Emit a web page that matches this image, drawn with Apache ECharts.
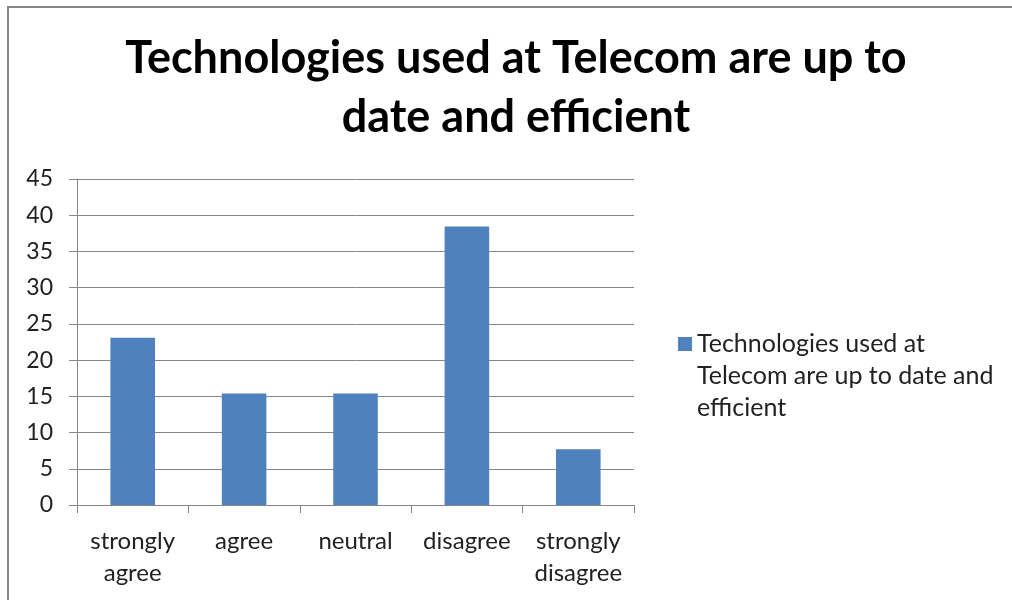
<!DOCTYPE html>
<html>
<head>
<meta charset="utf-8">
<script src="https://cdn.jsdelivr.net/npm/echarts@6/dist/echarts.min.js"></script>
<style>
  html, body { margin: 0; padding: 0; background: #fff; overflow: hidden; }
  #chart { width: 1012px; height: 600px; }
</style>
</head>
<body>
<div id="chart"></div>
<script>
// Survey responses (% of respondents)
const titleText = 'Technologies used at Telecom are up to\ndate and efficient';
const seriesName = 'Technologies used at Telecom are up to date and efficient';
const legendLines = ['Technologies used at', 'Telecom are up to date and', 'efficient'];
const categories = ['strongly\nagree', 'agree', 'neutral', 'disagree', 'strongly\ndisagree'];
const values = [23.08, 15.38, 15.38, 38.46, 7.69];
const yTicks = { min: 0, max: 45, interval: 5 };

const FONT = 'Lato, "Open Sans", sans-serif';
const chart = echarts.init(document.getElementById('chart'), null, { renderer: 'canvas' });

// Legend marker: a square sitting beside the first text line; the trailing
// move-to stretches the symbol box to the full height of the three lines.
const LEGEND_LINE_H = 32;
const legendIcon = 'path://M0,0M0,9h14v14h-14zM14,' + (LEGEND_LINE_H * 3);

chart.setOption({
  backgroundColor: '#fff',
  animation: false,
  textStyle: { fontFamily: FONT },
  title: {
    text: titleText,
    left: 516,
    textAlign: 'center',
    top: 24,
    padding: [5, 0, 5, 0],
    textStyle: { fontFamily: FONT, fontSize: 45, fontWeight: 'bold', color: '#000', lineHeight: 59 }
  },
  // chart-area frame: left and top edges
  graphic: [
    {
      type: 'line',
      shape: { x1: 8, y1: 7, x2: 8, y2: 620 },
      style: { stroke: '#868686', lineWidth: 2 },
      silent: true,
      z: 100
    },
    {
      type: 'line',
      shape: { x1: 7, y1: 7, x2: 1030, y2: 7 },
      style: { stroke: '#868686', lineWidth: 2 },
      silent: true,
      z: 100
    }
  ],
  grid: { left: 77, right: 378, top: 179, bottom: 95 },
  legend: {
    data: [seriesName],
    left: 678,
    top: 328,
    padding: 0,
    orient: 'vertical',
    icon: legendIcon,
    itemWidth: 14,
    itemHeight: LEGEND_LINE_H * 3,
    itemGap: 0,
    formatter: () => legendLines.join('\n'),
    textStyle: { fontFamily: FONT, fontSize: 25, color: '#222', lineHeight: LEGEND_LINE_H }
  },
  xAxis: {
    type: 'category',
    data: categories,
    axisLine: { lineStyle: { color: '#868686', width: 1 } },
    axisTick: { show: true, length: 8, lineStyle: { color: '#868686' } },
    axisLabel: { fontFamily: FONT, fontSize: 24, color: '#222', lineHeight: 32, margin: 20, interval: 0 }
  },
  yAxis: {
    type: 'value',
    min: yTicks.min,
    max: yTicks.max,
    interval: yTicks.interval,
    axisLine: { show: true, lineStyle: { color: '#868686', width: 1 } },
    axisTick: { show: true, length: 8, lineStyle: { color: '#868686' } },
    splitLine: { lineStyle: { color: '#868686', width: 1 } },
    axisLabel: { fontFamily: FONT, fontSize: 23, color: '#222', margin: 24 }
  },
  series: [{
    name: seriesName,
    type: 'bar',
    data: values,
    barCategoryGap: '60%',
    itemStyle: { color: '#4F81BD' }
  }]
});
</script>
</body>
</html>
